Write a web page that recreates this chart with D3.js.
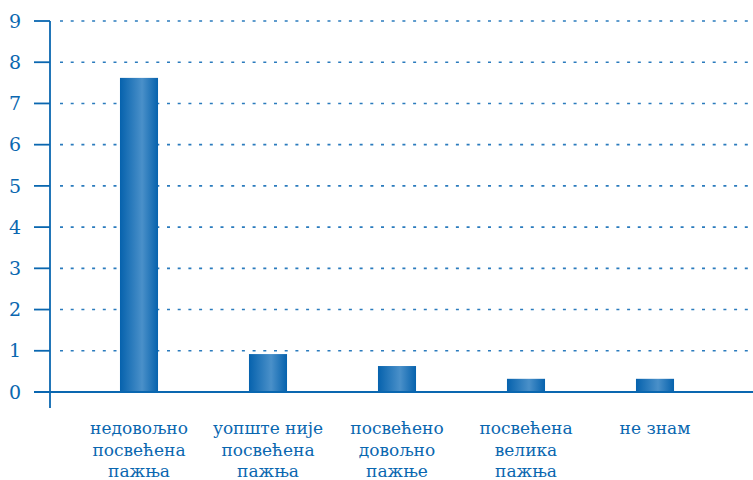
<!DOCTYPE html>
<html>
<head>
<meta charset="utf-8">
<script src="https://cdnjs.cloudflare.com/ajax/libs/d3/7.8.5/d3.min.js"></script>
<style>
  body { margin: 0; background: #fff; }
  svg { display: block; }
</style>
</head>
<body>
<div id="chart"></div>
<script>
// подаци
const categories = [
  ["недовољно", "посвећена", "пажња"],
  ["уопште није", "посвећена", "пажња"],
  ["посвећено", "довољно", "пажње"],
  ["посвећена", "велика", "пажња"],
  ["не знам"]
];
const values = [7.62, 0.92, 0.63, 0.32, 0.32];
const yTicks = [0, 1, 2, 3, 4, 5, 6, 7, 8, 9];

const width = 753, height = 480;
const blue = "#0a67b0";

const svg = d3.select("#chart").append("svg")
  .attr("width", width)
  .attr("height", height);

// градијент за стубове
const grad = svg.append("defs").append("linearGradient")
  .attr("id", "barGrad")
  .attr("x1", "0%").attr("x2", "100%").attr("y1", "0%").attr("y2", "0%");
grad.append("stop").attr("offset", "0%").attr("stop-color", "#0662ad");
grad.append("stop").attr("offset", "58%").attr("stop-color", "#4a90c9");
grad.append("stop").attr("offset", "100%").attr("stop-color", "#0662ad");

const x = d3.scaleBand()
  .domain(d3.range(categories.length))
  .range([74.5, 719.5])
  .paddingInner(0.705)
  .paddingOuter(0.3525);

const y = d3.scaleLinear()
  .domain([0, 9])
  .range([392, 21]);

// мрежа
svg.append("g")
  .selectAll("line")
  .data(yTicks.filter(d => d > 0))
  .enter().append("line")
  .attr("x1", 60).attr("x2", width)
  .attr("y1", d => y(d)).attr("y2", d => y(d))
  .attr("stroke", "#2a7bbd")
  .attr("stroke-width", 1.6)
  .attr("stroke-dasharray", "3,7.7");

// стубови
svg.append("g")
  .selectAll("rect")
  .data(values)
  .enter().append("rect")
  .attr("x", (d, i) => x(i))
  .attr("y", d => y(d))
  .attr("width", x.bandwidth())
  .attr("height", d => y(0) - y(d))
  .attr("fill", "url(#barGrad)");

// y оса
svg.append("line")
  .attr("x1", 50).attr("x2", 50)
  .attr("y1", y(9)).attr("y2", 408)
  .attr("stroke", blue).attr("stroke-width", 1.8);

svg.append("line")
  .attr("x1", 34).attr("x2", width)
  .attr("y1", y(0)).attr("y2", y(0))
  .attr("stroke", blue).attr("stroke-width", 1.8);

svg.append("g")
  .selectAll("line")
  .data(yTicks)
  .enter().append("line")
  .attr("x1", 34).attr("x2", 50)
  .attr("y1", d => y(d)).attr("y2", d => y(d))
  .attr("stroke", blue).attr("stroke-width", 1.8);

svg.append("g")
  .selectAll("text")
  .data(yTicks)
  .enter().append("text")
  .attr("x", 15)
  .attr("y", d => y(d))
  .attr("dy", "0.35em")
  .attr("text-anchor", "middle")
  .attr("font-family", "'DejaVu Serif', serif")
  .attr("font-size", 19)
  .attr("fill", blue)
  .text(d => d);

// ознаке категорија
const lbl = svg.append("g")
  .selectAll("text")
  .data(categories)
  .enter().append("text")
  .attr("x", (d, i) => x(i) + x.bandwidth() / 2)
  .attr("y", 434)
  .attr("text-anchor", "middle")
  .attr("font-family", "'DejaVu Serif', serif")
  .attr("font-size", 17)
  .attr("fill", blue);

lbl.selectAll("tspan")
  .data(d => d)
  .enter().append("tspan")
  .attr("x", function() { return d3.select(this.parentNode).attr("x"); })
  .attr("dy", (d, i) => i === 0 ? 0 : 21.5)
  .text(d => d);
</script>
</body>
</html>
